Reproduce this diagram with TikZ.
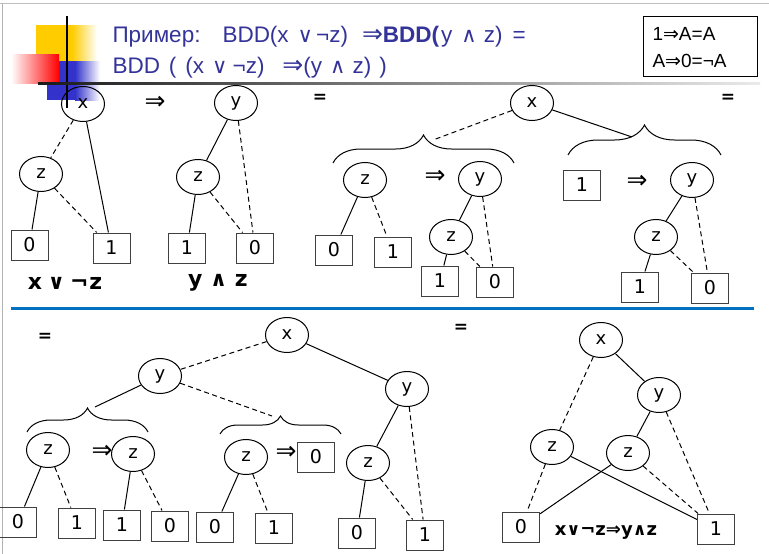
\documentclass[tikz,border=0pt]{standalone}
\usepackage{fontspec}
\setmainfont{DejaVu Sans}
\newfontfamily\titlefont{Liberation Sans}
\newfontfamily\symfont{DejaVu Sans}
\usetikzlibrary{shapes.geometric,decorations.pathreplacing}
\definecolor{titleblue}{RGB}{51,51,153}
\definecolor{sepblue}{RGB}{0,112,192}
\definecolor{logoyellow}{RGB}{255,204,0}
\definecolor{logoblue}{RGB}{51,51,204}
\definecolor{logored}{RGB}{255,0,0}
\newcommand{\smsym}[1]{{\symfont\fontsize{21}{21}\selectfont #1}}
\newcommand{\bigimp}{{\symfont\fontsize{25}{25}\selectfont ⇒}}
\newcommand{\hs}[1]{\hspace{#1pt}}
\begin{document}
\begin{tikzpicture}[x=1pt,y=-1pt,line width=1pt,
  vnode/.style={ellipse,draw,minimum width=43,minimum height=35,inner sep=0,font=\fontsize{18}{18}\selectfont},
  leaf/.style={rectangle,draw=black!75,minimum width=37,minimum height=30,inner sep=0,font=\fontsize{19}{19}\selectfont},
  hi/.style={},
  lo/.style={dash pattern=on 5pt off 3.5pt},
  impl/.style={inner sep=0,font=\fontsize{25}{25}\selectfont},
  eqsign/.style={inner sep=0,font=\bfseries\fontsize{17}{17}\selectfont},
  funlabel/.style={inner sep=0,font=\bfseries\fontsize{22}{22}\selectfont},
  titletext/.style={anchor=base west,inner sep=0,text=titleblue,font=\titlefont\fontsize{22.5}{26}\selectfont},
  ruletext/.style={anchor=base west,inner sep=0,font=\titlefont\fontsize{19}{19}\selectfont},
  bracepath/.style={decorate,line width=1pt}]
\useasboundingbox (0,0) rectangle (769,554);
\fill[white] (0,0) rectangle (769,554);
% frame lines
\draw[black!25,line width=0.8pt] (0,3) -- (769,3);
\draw[black!30,line width=1pt] (2,3) -- (2,554);
% logo
\fill[logoyellow] (36,25) rectangle (72,62);
\shade[left color=logoyellow,right color=white] (72,25) rectangle (97,62);
\fill[logoblue] (47,61) rectangle (75,100);
\shade[left color=logoblue,right color=white] (75,61) rectangle (100,100);
\shade[left color=white,right color=logored] (11,54) rectangle (59,83);
\draw[line width=1.6pt] (67,16) -- (67,108);
\shade[left color=black!90,right color=black!8] (38,82) rectangle (760,84.5);
% title
\node[titletext] (title1) at (112,42)
  {Пример:\hs{22}BDD(x\hs{9}\smsym{∨}\hs{3}¬z)\hs{14}\bigimp\textbf{BDD(}\hs{2}y\hs{9}\smsym{∧}\hs{7}z)\hs{10}=};
\node[titletext] (title2) at (112,73)
  {BDD\hs{9}(\hs{9}(x\hs{8}\smsym{∨}\hs{5}¬z)\hs{18}\bigimp(y\hs{8}\smsym{∧}\hs{7}z)\hs{8})};
% rules box
\node[draw,anchor=north west,minimum width=114,minimum height=60,inner sep=0] (rules) at (643,16) {};
\node[ruletext] (rule1) at (652,40) {1{\symfont ⇒}A=A};
\node[ruletext] (rule2) at (652,67) {A{\symfont ⇒}0=¬A};
% separator
\fill[sepblue] (11,307) rectangle (754,310);

% ---------- tree 1 : x or not z
\node[vnode] (x1) at (83,104) {x};
\node[vnode] (z1) at (41,174) {z};
\node[leaf] (a0) at (29.5,245) {0};
\node[leaf] (a1) at (111.5,248) {1};
\draw[lo] (x1) -- (z1);
\draw[hi] (x1) -- (a1);
\draw[hi] (z1) -- (a0);
\draw[lo] (z1) -- (a1);
\node[funlabel] (f1) at (65,283) {x\hs{6}\smsym{∨}\hs{5}¬\hs{1}z};
\node[impl] (i1) at (155,103) {⇒};

% ---------- tree 2 : y and z
\node[vnode] (y2) at (236,103) {y};
\node[vnode] (z2) at (198,177) {z};
\node[leaf] (b1) at (187,248) {1};
\node[leaf] (b0) at (255,248) {0};
\draw[hi] (y2) -- (z2);
\draw[lo] (y2) -- (b0);
\draw[hi] (z2) -- (b1);
\draw[lo] (z2) -- (b0);
\node[funlabel] (f2) at (218,283) {y \smsym{∧} z};
\node[eqsign] (e1) at (320,98) {=};
\node[eqsign] (e2) at (728,98) {=};

% ---------- tree 3
\node[vnode] (x3) at (532,103) {x};
\draw[bracepath,decoration={brace,amplitude=28pt}] (333,163) -- (514,163);
\draw[bracepath,decoration={brace,amplitude=30pt}] (568,155) -- (721,155);
\coordinate (cL) at (433,140);
\coordinate (cR) at (632,137);
\draw[lo] (x3) -- (cL);
\draw[hi] (x3) -- (cR);
\node[vnode] (z3a) at (365,180) {z};
\node[leaf] (c0) at (334,250) {0};
\node[leaf] (c1) at (393,252) {1};
\draw[hi] (z3a) -- (c0);
\draw[lo] (z3a) -- (c1);
\node[impl] (i2) at (435,177) {⇒};
\node[vnode] (y3a) at (480,179) {y};
\node[vnode] (z3b) at (451,237) {z};
\node[leaf] (c10) at (440,281) {1};
\node[leaf] (c00) at (495,282) {0};
\draw[hi] (y3a) -- (z3b);
\draw[lo] (y3a) -- (c00);
\draw[hi] (z3b) -- (c10);
\draw[lo] (z3b) -- (c00);
\node[leaf] (d1) at (582,185) {1};
\node[impl] (i3) at (637,182) {⇒};
\node[vnode] (y3b) at (692,180) {y};
\node[vnode] (z3c) at (656,237) {z};
\node[leaf] (d10) at (640,287) {1};
\node[leaf] (d00) at (710,288) {0};
\draw[hi] (y3b) -- (z3c);
\draw[lo] (y3b) -- (d00);
\draw[hi] (z3c) -- (d10);
\draw[lo] (z3c) -- (d00);

% ---------- tree 4
\node[eqsign] (e3) at (45,337) {=};
\node[vnode] (x4) at (287,335) {x};
\node[vnode] (y4a) at (160,376) {y};
\node[vnode] (y4b) at (407,389) {y};
\draw[lo] (x4) -- (y4a);
\draw[hi] (x4) -- (y4b);
\draw[bracepath,decoration={brace,amplitude=24pt}] (27,432) -- (148,432);
\draw[bracepath,decoration={brace,amplitude=18pt}] (220,434) -- (341,434);
\coordinate (cB1) at (95,407);
\coordinate (cB2) at (272,416);
\draw[hi] (y4a) -- (cB1);
\draw[lo] (y4a) -- (cB2);
\node[vnode] (z4a) at (48,450) {z};
\node[impl] (i4) at (102,452) {⇒};
\node[vnode] (z4b) at (133,454) {z};
\node[leaf] (g0) at (18,522) {0};
\node[leaf] (g1) at (77,523) {1};
\node[leaf] (g10) at (122,525) {1};
\node[leaf] (g00) at (170,526) {0};
\draw[hi] (z4a) -- (g0);
\draw[lo] (z4a) -- (g1);
\draw[hi] (z4b) -- (g10);
\draw[lo] (z4b) -- (g00);
\node[vnode] (z4c) at (246,457) {z};
\node[impl] (i5) at (286,453) {⇒};
\node[leaf] (h0) at (316,457) {0};
\node[leaf] (k0) at (215,527) {0};
\node[leaf] (k1) at (274,528) {1};
\draw[hi] (z4c) -- (k0);
\draw[lo] (z4c) -- (k1);
\node[vnode] (z4d) at (368,463) {z};
\node[leaf] (m0) at (357,533) {0};
\node[leaf] (m1) at (425,535) {1};
\draw[hi] (y4b) -- (z4d);
\draw[lo] (y4b) -- (m1);
\draw[hi] (z4d) -- (m0);
\draw[lo] (z4d) -- (m1);

% ---------- final tree
\node[eqsign] (e4) at (461,328) {=};
\node[vnode] (x5) at (601,340) {x};
\node[vnode] (y5) at (659,395) {y};
\node[vnode] (z5a) at (552,447) {z};
\node[vnode] (z5b) at (628,453) {z};
\node[leaf] (n0) at (521,527) {0};
\node[leaf] (n1) at (716,529) {1};
\draw[lo] (x5) -- (z5a);
\draw[hi] (x5) -- (y5);
\draw[hi] (y5) -- (z5b);
\draw[lo] (y5) -- (n1);
\draw[lo] (z5a) -- (n0);
\draw[hi] (z5a) -- (n1);
\draw[hi] (z5b) -- (n0);
\draw[lo] (z5b) -- (n1);
\node[inner sep=0,font=\bfseries\fontsize{18}{18}\selectfont] (f3) at (606,533)
  {x{\symfont\fontsize{17}{17}\selectfont ∨}¬z{\symfont ⇒}y{\symfont\fontsize{17}{17}\selectfont ∧}z};
\end{tikzpicture}
\end{document}
